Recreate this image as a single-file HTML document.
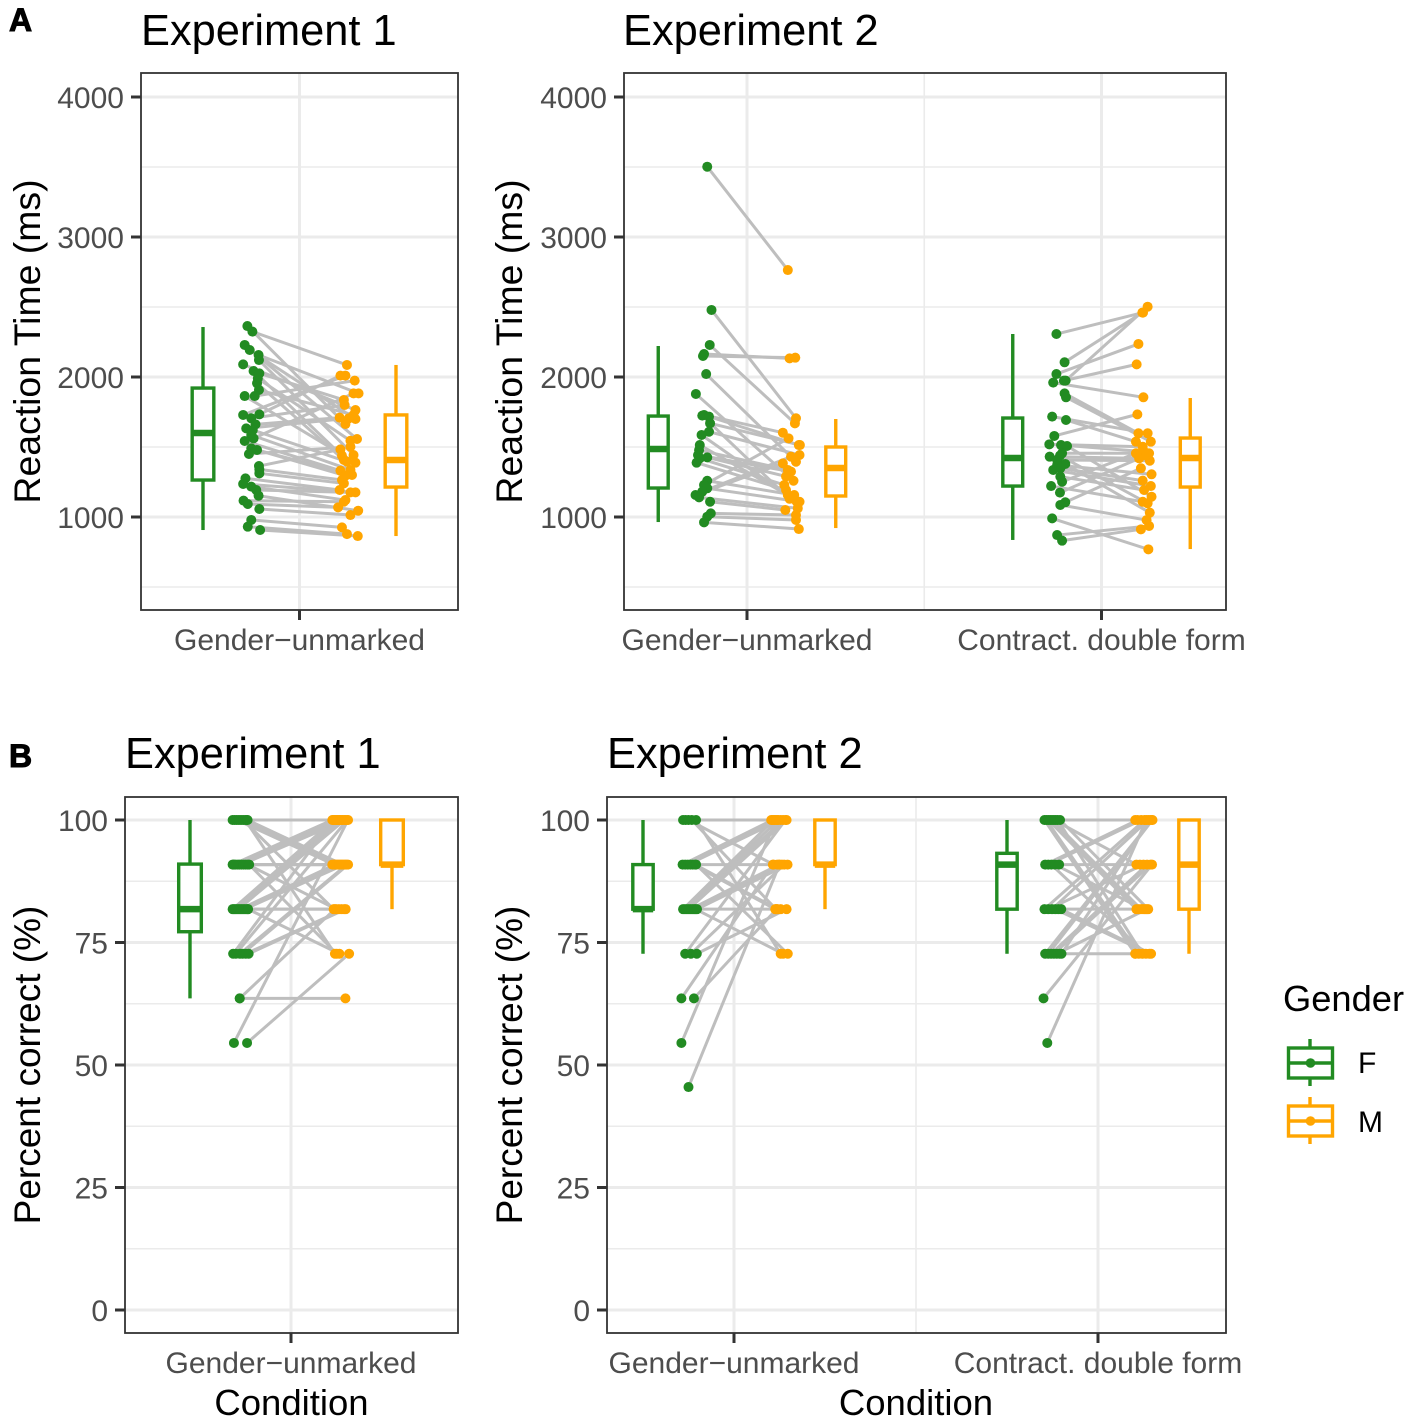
<!DOCTYPE html>
<html lang="en">
<head>
<meta charset="utf-8">
<title>Reaction time and percent correct by gender and condition</title>
<style>
html,body{margin:0;padding:0;background:#fff;}
svg{display:block;font-family:"Liberation Sans",Arial,sans-serif;}
</style>
</head>
<body>
<svg id="figure" xmlns="http://www.w3.org/2000/svg" width="1417" height="1427" viewBox="0 0 1417 1427">
  <rect x="0" y="0" width="1417" height="1427" fill="#ffffff"/>
  <text x="9" y="31" font-size="32" font-weight="bold" stroke="#000" stroke-width="1">A</text>
  <text x="9" y="767" font-size="32" font-weight="bold" stroke="#000" stroke-width="1">B</text>
  <text x="141" y="45" font-size="43.4">Experiment 1</text>
  <text x="623" y="45" font-size="43.4">Experiment 2</text>
  <text x="125" y="768" font-size="43.4">Experiment 1</text>
  <text x="607" y="768" font-size="43.4">Experiment 2</text>
  <text transform="translate(40,341.5) rotate(-90)" text-anchor="middle" font-size="37.4">Reaction Time (ms)</text>
  <text transform="translate(522,341.5) rotate(-90)" text-anchor="middle" font-size="37.4">Reaction Time (ms)</text>
  <text transform="translate(40,1065) rotate(-90)" text-anchor="middle" font-size="37">Percent correct (%)</text>
  <text transform="translate(522,1065) rotate(-90)" text-anchor="middle" font-size="37">Percent correct (%)</text>
  <text x="291.5" y="1415" text-anchor="middle" font-size="36.5">Condition</text>
  <text x="916" y="1415" text-anchor="middle" font-size="36.5">Condition</text>
  <g>
    <text x="1283" y="1011" font-size="36.3">Gender</text>
    <g>
      <line x1="1310" x2="1310" y1="1039" y2="1086" stroke="#228B22" stroke-width="3.4"/>
      <rect x="1288.5" y="1048" width="44" height="30" fill="#fff" stroke="#228B22" stroke-width="3.4"/>
      <line x1="1288" x2="1333" y1="1063" y2="1063" stroke="#228B22" stroke-width="3.4"/>
      <circle cx="1310.5" cy="1063" r="4.8" fill="#228B22"/>
      <text x="1358" y="1073" font-size="30">F</text>
    </g>
    <g>
      <line x1="1310" x2="1310" y1="1097" y2="1144" stroke="#FFA500" stroke-width="3.4"/>
      <rect x="1288.5" y="1106" width="44" height="30" fill="#fff" stroke="#FFA500" stroke-width="3.4"/>
      <line x1="1288" x2="1333" y1="1121" y2="1121" stroke="#FFA500" stroke-width="3.4"/>
      <circle cx="1310.5" cy="1121" r="4.8" fill="#FFA500"/>
      <text x="1358" y="1132" font-size="30">M</text>
    </g>
  </g>
</svg>
<script>
// ---------- shared tick values ----------
const rtMajorTicks = [1000, 2000, 3000, 4000];
const rtMinorTicks = [500, 1500, 2500, 3500];
const rtTickLabels = ["1000", "2000", "3000", "4000"];
const pcMajorTicks = [0, 25, 50, 75, 100];
const pcMinorTicks = [12.5, 37.5, 62.5, 87.5];
const pcTickLabels = ["0", "25", "50", "75", "100"];
const categoriesOne = ["Gender\u2212unmarked"];
const categoriesTwo = ["Gender\u2212unmarked", "Contract. double form"];

// ---------- A / Experiment 1 / Gender-unmarked ----------
const rtE1GuF = [2364,2324,2229,2193,2157,2121,2090,2043,2026,1990,1955,1907,1864,1864,1733,1729,1705,1662,1633,1621,1586,1562,1543,1490,1479,1450,1364,1340,1312,1276,1236,1217,1193,1152,1117,1093,1057,979,931,907];
const rtE1GuM = [1664,2086,1557,1700,1883,1443,1764,1438,1836,1545,1407,1729,1974,1388,2010,2010,1800,1710,1705,1395,1336,1883,1331,1300,1295,1502,1483,1264,1240,1193,1176,1121,1176,1045,1109,1069,1014,926,878,864];
// horizontal jitter, thousandths of a condition unit
const rtE1GuFJitter = [-10,3,-17,-4,19,20,-21,6,21,17,15,20,9,-17,21,-21,0,11,-13,4,0,6,-17,0,15,-6,20,21,21,-15,-21,0,13,19,-20,-9,21,0,-9,23];
const rtE1GuMJitter = [-6,-2,24,20,28,15,20,-15,-10,7,-10,15,18,20,-19,-6,-8,-21,3,-2,7,15,-19,11,-6,7,-19,-15,-10,-21,20,-6,7,27,-10,-25,7,-15,-2,26];
// whisker low, q1, median, q3, whisker high
const rtE1GuBoxF = [907,1264,1600,1921,2357];
const rtE1GuBoxM = [864,1214,1407,1729,2086];

// ---------- A / Experiment 2 / Gender-unmarked ----------
const rtE2GuF = [3502,2479,2229,2164,2150,2021,1879,1729,1724,1717,1669,1609,1586,1514,1478,1443,1426,1419,1388,1259,1229,1205,1181,1157,1140,1109,1026,1002,962];
const rtE2GuM = [2764,1705,1669,2133,2138,1395,1259,1602,1130,1514,1514,1443,1109,1157,1336,1324,1290,1229,1193,1157,1562,1109,1431,1383,1062,1050,1014,979,914];
const rtE2GuFJitter = [13,25,20,4,1,10,-19,4,-1,18,21,18,-3,-8,-10,-13,13,-8,-17,13,4,13,-1,-20,-10,21,23,13,4];
const rtE2GuMJitter = [-10,13,10,-5,11,13,6,-24,-5,21,24,23,15,-10,-10,-1,-15,-20,-15,8,-8,23,-1,-24,18,-17,13,13,21];
const rtE2GuBoxF = [964,1207,1486,1721,2221];
const rtE2GuBoxM = [921,1150,1350,1500,1700];

// ---------- A / Experiment 2 / Contracted double form ----------
const rtE2CdF = [2307,2105,2021,1974,1974,1960,1883,1855,1717,1693,1579,1519,1514,1507,1455,1438,1431,1407,1379,1371,1348,1336,1288,1252,1221,1174,1105,1086,990,871,831];
const rtE2CdM = [2460,2460,2236,2502,2090,1855,1598,1538,1598,1538,1733,1502,1467,1145,1455,1098,1419,1402,1031,1305,1260,1221,1193,1455,1109,1440,1348,978,769,936,912];
const rtE2CdFJitter = [-2,21,-2,24,19,-11,21,25,-14,25,-8,-22,11,28,14,8,-21,0,23,0,9,-11,9,14,-17,8,23,9,-14,0,14];
const rtE2CdMJitter = [-8,-10,-21,5,-26,-7,-21,14,5,-28,-24,-9,-5,16,9,5,-19,11,11,16,-9,14,-5,-28,-9,0,-14,2,7,9,-14];
const rtE2CdBoxF = [836,1221,1421,1707,2307];
const rtE2CdBoxM = [771,1214,1421,1564,1850];

// ---------- B / Experiment 1 / Gender-unmarked ----------
const pcE1GuF = [100,100,100,100,100,100,100,100,100, 90.9,90.9,90.9,90.9,90.9,90.9,90.9,90.9,90.9,90.9,90.9, 81.8,81.8,81.8,81.8,81.8,81.8,81.8,81.8,81.8,81.8,81.8,81.8, 72.7,72.7,72.7,72.7,72.7,72.7, 63.6,63.6, 54.5,54.5];
const pcE1GuM = [100,100,90.9,90.9,90.9,81.8,72.7,100,90.9, 100,100,100,100,100,100,90.9,90.9,90.9,81.8,72.7, 100,100,100,100,100,90.9,90.9,90.9,90.9,81.8,81.8,72.7, 100,100,90.9,90.9,81.8,81.8, 63.6,81.8, 100,72.7];
const pcE1GuFJitter = [-30,-22,-14,-6,2,10,18,24,27, -30,-24,-18,-10,-4,4,-27,12,20,28,33, -30,-25,-20,-14,-8,-2,4,10,16,22,28,29, -28,-18,-2,8,20,31, -3,-3, -25,25];
const pcE1GuMJitter = [-30,-20,-28,-15,-5,-30,-25,-10,5, -35,-25,-15,-5,5,15,-35,-20,15,-20,-18, -28,-18,-8,2,12,-25,-10,0,10,-10,0,-8, -32,22,20,25,10,16, 15,-25, 25,29];
const pcE1GuBoxF = [63.6,77.2,81.8,91,100];
const pcE1GuBoxM = [81.8,90.9,90.9,100,100];

// ---------- B / Experiment 2 / Gender-unmarked ----------
const pcE2GuF = [100,100,100,100,100, 90.9,90.9,90.9,90.9,90.9,90.9,90.9, 81.8,81.8,81.8,81.8,81.8,81.8,81.8,81.8,81.8, 72.7,72.7,72.7, 63.6,63.6, 54.5, 45.5];
const pcE2GuM = [100,100,90.9,81.8,72.7, 100,100,100,90.9,81.8,81.8,72.7, 100,100,100,100,90.9,90.9,81.8,72.7,90.9, 100,90.9,81.8, 90.9,81.8, 100, 90.9];
const pcE2GuFJitter = [-23,-12,0,14,32, -25,-14,-3,8,18,28,32, -23,-15,-7,1,9,17,24,30,36, -14,10,35, -30,23, -30, 0];
const pcE2GuMJitter = [-35,-20,-25,-15,5, -30,-10,5,-10,-18,-8,35, -25,-5,15,30,-2,10,5,15,34, 25,20,30, -28,-12, -15, 0];
const pcE2GuBoxF = [72.7,81.8,81.8,90.9,100];
const pcE2GuBoxM = [81.8,90.9,90.9,100,100];

// ---------- B / Experiment 2 / Contracted double form ----------
const pcE2CdF = [100,100,100,100,100,100,100,100,100, 90.9,90.9,90.9,90.9,90.9, 81.8,81.8,81.8,81.8,81.8,81.8, 72.7,72.7,72.7,72.7,72.7,72.7,72.7, 63.6, 54.5];
const pcE2CdM = [72.7,72.7,81.8,81.8,81.8,90.9,100,72.7,81.8, 100,100,72.7,81.8,90.9, 100,90.9,100,72.7,81.8,72.7, 100,100,90.9,90.9,81.8,72.7,100, 90.9, 100];
const pcE2CdFJitter = [-34,-26,-18,-10,-2,6,14,22,32, -31,-18,-5,10,28, -34,-18,-2,12,25,37, -31,-18,-6,6,18,30,38, -38, -22];
const pcE2CdMJitter = [-35,-20,-30,-20,-10,-30,-35,-5,20, -25,-10,10,-2,-15, 5,0,20,25,8,32, 35,38,15,30,14,-35,28, 36, 12];
const pcE2CdBoxF = [72.7,81.8,90.9,93.2,100];
const pcE2CdBoxM = [72.7,81.8,90.9,100,100];

// ---------- rendering ----------
const SVG_NS = "http://www.w3.org/2000/svg";
const GREEN = "#228B22", ORANGE = "#FFA500", LINK = "#BEBEBE", GRID = "#EBEBEB";
const POINT_OFFSET = 0.125, BOX_OFFSET = 0.25, BOX_WIDTH = 0.056;
const figure = document.getElementById("figure");

function el(tag, attrs, parent, text) {
  const node = document.createElementNS(SVG_NS, tag);
  for (const key in attrs) node.setAttribute(key, attrs[key]);
  if (text !== undefined) node.textContent = text;
  parent.appendChild(node);
  return node;
}

function makeYScale(refValue, refPixel, pixelsPerValue) {
  return function (v) { return refPixel - (v - refValue) * pixelsPerValue; };
}

function makeXScale(unitPixels) {
  return function (center, offset) { return center + offset * unitPixels; };
}

function drawFrame(panel) {
  const g = el("g", {}, figure);
  
  
  panel.minor.forEach(function (v) {
    const line = el("line", {x1: panel.left, x2: panel.right, y1: panel.y(v), y2: panel.y(v), stroke: GRID, "stroke-width": 1.6}, g);
    
    
  });
  panel.major.forEach(function (v) {
    const line = el("line", {x1: panel.left, x2: panel.right, y1: panel.y(v), y2: panel.y(v), stroke: GRID, "stroke-width": 3}, g);
    
    
  });
  if (panel.centers.length === 2) {
    const mid = (panel.centers[0] + panel.centers[1]) / 2;
    const minorV = el("line", {x1: mid, x2: mid, y1: panel.top, y2: panel.bottom, stroke: GRID, "stroke-width": 1.6}, g);
    
    
  }
  panel.centers.forEach(function (cx, i) {
    const v = el("line", {x1: cx, x2: cx, y1: panel.top, y2: panel.bottom, stroke: GRID, "stroke-width": 3}, g);
    
    
    const tick = el("line", {x1: cx, x2: cx, y1: panel.bottom, y2: panel.bottom + 10, stroke: "#333333", "stroke-width": 3}, g);
    
    
    const label = el("text", {x: cx, y: panel.bottom + 40, "text-anchor": "middle", "font-size": 30, fill: "#4D4D4D"}, g, panel.categories[i]);
    
    
  });
  panel.major.forEach(function (v, i) {
    const tick = el("line", {x1: panel.left - 10, x2: panel.left, y1: panel.y(v), y2: panel.y(v), stroke: "#333333", "stroke-width": 3}, g);
    
    
    const label = el("text", {x: panel.left - 17, y: panel.y(v) + 11, "text-anchor": "end", "font-size": 30, fill: "#4D4D4D"}, g, panel.tickLabels[i]);
    
    
  });
  return g;
}

function drawBorder(panel) {
  const border = el("rect", {x: panel.left, y: panel.top, width: panel.right - panel.left, height: panel.bottom - panel.top, fill: "none", stroke: "#333333", "stroke-width": 1.8}, figure);
  
  
}

function drawBox(panel, parent, center, offset, stats, color, name) {
  const cx = panel.x(center, offset);
  const halfWidth = panel.x(0, BOX_WIDTH) / 2;
  const g = el("g", {}, parent);
  
  
  const whiskerHigh = el("line", {x1: cx, x2: cx, y1: panel.y(stats[4]), y2: panel.y(stats[3]), stroke: color, "stroke-width": 3.4}, g);
  
  
  const whiskerLow = el("line", {x1: cx, x2: cx, y1: panel.y(stats[1]), y2: panel.y(stats[0]), stroke: color, "stroke-width": 3.4}, g);
  
  
  const body = el("rect", {x: cx - halfWidth, y: panel.y(stats[3]), width: halfWidth * 2, height: panel.y(stats[1]) - panel.y(stats[3]), fill: "#ffffff", stroke: color, "stroke-width": 3.4}, g);
  
  
  const median = el("line", {x1: cx - halfWidth, x2: cx + halfWidth, y1: panel.y(stats[2]), y2: panel.y(stats[2]), stroke: color, "stroke-width": 6.5}, g);
  
  
}

function drawPairs(panel, parent, center, femaleValues, maleValues, femaleJitter, maleJitter) {
  const jitterUnit = panel.jitterScale / 1000;
  const linkGroup = el("g", {}, parent);
  
  
  femaleValues.forEach(function (fv, i) {
    const link = el("line", {
      x1: panel.x(center, -POINT_OFFSET + femaleJitter[i] * jitterUnit),
      y1: panel.y(fv),
      x2: panel.x(center, POINT_OFFSET + maleJitter[i] * jitterUnit),
      y2: panel.y(maleValues[i]),
      stroke: LINK, "stroke-width": 3
    }, linkGroup);
    
    
  });
  const pointGroup = el("g", {}, parent);
  
  
  femaleValues.forEach(function (fv, i) {
    const p = el("circle", {cx: panel.x(center, -POINT_OFFSET + femaleJitter[i] * jitterUnit), cy: panel.y(fv), r: 5, fill: GREEN}, pointGroup);
    
    
  });
  maleValues.forEach(function (mv, i) {
    const p = el("circle", {cx: panel.x(center, POINT_OFFSET + maleJitter[i] * jitterUnit), cy: panel.y(mv), r: 5, fill: ORANGE}, pointGroup);
    
    
  });
}

function drawCondition(panel, g, center, femaleValues, maleValues, femaleJitter, maleJitter, boxF, boxM) {
  drawBox(panel, g, center, -BOX_OFFSET, boxF, GREEN, "boxplot-f");
  drawBox(panel, g, center, BOX_OFFSET, boxM, ORANGE, "boxplot-m");
  drawPairs(panel, g, center, femaleValues, maleValues, femaleJitter, maleJitter);
}

const rtY = makeYScale(1000, 517, 0.14);
const pcY = makeYScale(0, 1310, 4.9);

const panelA1 = {name: "panel-a-experiment-1", left: 141, right: 458, top: 73, bottom: 610, centers: [299.5], categories: categoriesOne, y: rtY, x: makeXScale(386), jitterScale: 1, major: rtMajorTicks, minor: rtMinorTicks, tickLabels: rtTickLabels};
const panelA2 = {name: "panel-a-experiment-2", left: 624, right: 1226, top: 73, bottom: 610, centers: [747, 1101.5], categories: categoriesTwo, y: rtY, x: makeXScale(355), jitterScale: 1, major: rtMajorTicks, minor: rtMinorTicks, tickLabels: rtTickLabels};
const panelB1 = {name: "panel-b-experiment-1", left: 125, right: 458, top: 797, bottom: 1333, centers: [291], categories: categoriesOne, y: pcY, x: makeXScale(404), jitterScale: 0.65, major: pcMajorTicks, minor: pcMinorTicks, tickLabels: pcTickLabels};
const panelB2 = {name: "panel-b-experiment-2", left: 607, right: 1226, top: 797, bottom: 1333, centers: [734, 1098], categories: categoriesTwo, y: pcY, x: makeXScale(364), jitterScale: 0.65, major: pcMajorTicks, minor: pcMinorTicks, tickLabels: pcTickLabels};

const gA1 = drawFrame(panelA1);
drawCondition(panelA1, gA1, panelA1.centers[0], rtE1GuF, rtE1GuM, rtE1GuFJitter, rtE1GuMJitter, rtE1GuBoxF, rtE1GuBoxM);
drawBorder(panelA1);

const gA2 = drawFrame(panelA2);
drawCondition(panelA2, gA2, panelA2.centers[0], rtE2GuF, rtE2GuM, rtE2GuFJitter, rtE2GuMJitter, rtE2GuBoxF, rtE2GuBoxM);
drawCondition(panelA2, gA2, panelA2.centers[1], rtE2CdF, rtE2CdM, rtE2CdFJitter, rtE2CdMJitter, rtE2CdBoxF, rtE2CdBoxM);
drawBorder(panelA2);

const gB1 = drawFrame(panelB1);
drawCondition(panelB1, gB1, panelB1.centers[0], pcE1GuF, pcE1GuM, pcE1GuFJitter, pcE1GuMJitter, pcE1GuBoxF, pcE1GuBoxM);
drawBorder(panelB1);

const gB2 = drawFrame(panelB2);
drawCondition(panelB2, gB2, panelB2.centers[0], pcE2GuF, pcE2GuM, pcE2GuFJitter, pcE2GuMJitter, pcE2GuBoxF, pcE2GuBoxM);
drawCondition(panelB2, gB2, panelB2.centers[1], pcE2CdF, pcE2CdM, pcE2CdFJitter, pcE2CdMJitter, pcE2CdBoxF, pcE2CdBoxM);
drawBorder(panelB2);
</script>
</body>
</html>
